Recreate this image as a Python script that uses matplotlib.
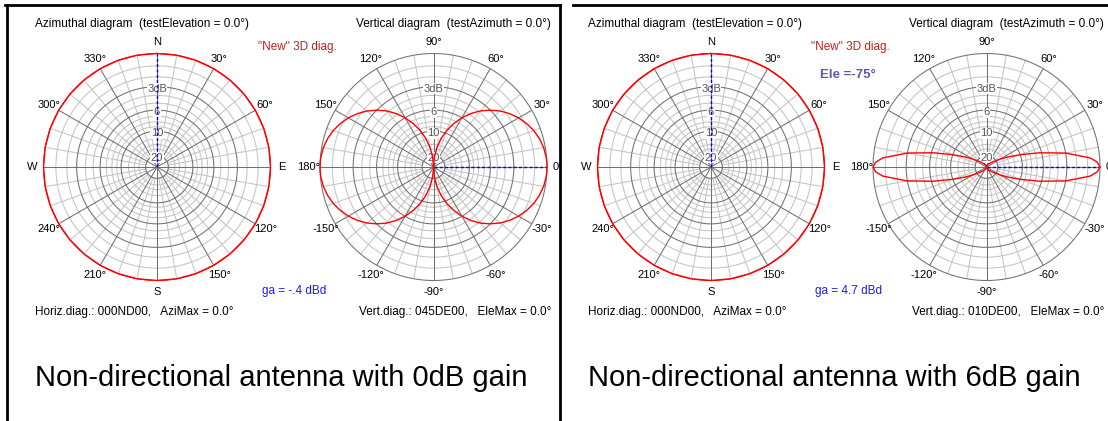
import matplotlib.pyplot as plt
import numpy as np

plt.rcParams['font.family'] = ['Liberation Sans', 'DejaVu Sans']

W, H = 1108, 421

# grid rings in dB below maximum (radius is linear voltage, 0 dB = outer ring)
major_rings_db = [0, 3, 6, 10, 20]
minor_rings_db = [1, 2, 4, 5, 7, 8, 9, 12, 14, 16]
ring_label_db = [3, 6, 10, 20]
ring_label_txt = ['3dB', '6', '10', '20']

# angle scales
azi_angles = [0, 30, 60, 90, 120, 150, 180, 210, 240, 270, 300, 330]
azi_labels = ['N', '30°', '60°', 'E', '120°', '150°', 'S', '210°', '240°', 'W', '300°', '330°']
ele_angles = [90, 60, 30, 0, -30, -60, -90, -120, -150, 180, 150, 120]
ele_labels = ['90°', '60°', '30°', '0°', '-30°', '-60°', '-90°', '-120°', '-150°', '180°', '150°', '120°']

# horizontal patterns (omni): azimuth deg -> dB
azi_theta = [0, 10, 20, 30, 40, 50, 60, 70, 80, 90, 100, 110, 120, 130, 140, 150, 160, 170,
             180, 190, 200, 210, 220, 230, 240, 250, 260, 270, 280, 290, 300, 310, 320,
             330, 340, 350, 360]
azi_gain_0db = [0] * len(azi_theta)
azi_gain_6db = [0] * len(azi_theta)

# vertical patterns, one quadrant: elevation deg -> dB (symmetric antenna)
ele_theta = [0, 2.5, 5, 10, 15, 20, 25, 30, 35, 40, 45, 50, 55, 60, 65, 70, 75, 80, 85, 90]
ele_gain_045 = [0, -0.01, -0.03, -0.13, -0.3, -0.54, -0.86, -1.25, -1.73, -2.3, -3.0,
                -3.8, -4.8, -6.0, -7.5, -9.3, -11.7, -15.2, -21.2, -40]
ele_gain_010 = [0, -0.2, -0.75, -3.0, -6.3, -10, -13.5, -17, -20.5, -23, -26,
                -28, -30, -32, -34, -36, -38, -40, -40, -40]

LIGHT = '#c4c4c4'
DARK = '#707070'
RED = '#ff0000'
BLUE = '#0000ff'
LW = 0.75


def to_r(db):
    return 10 ** (np.asarray(db, dtype=float) / 20.0)


def polar_at(fig, cx, cy, R=113.5):
    ax = fig.add_axes([(cx - R) / W, (H - cy - R) / H, 2 * R / W, 2 * R / H],
                      projection='polar')
    ax.set_ylim(0, 1)
    ax.set_xticks([])
    ax.set_yticks([])
    ax.grid(False)
    ax.spines['polar'].set_visible(False)
    ax.patch.set_alpha(0)
    return ax


def draw_grid(ax, label_theta, outer_color=DARK):
    th = np.linspace(0, 2 * np.pi, 721)
    for db in minor_rings_db:
        ax.plot(th, np.full_like(th, to_r(-db)), color=LIGHT, lw=LW, zorder=1)
    for db in major_rings_db:
        c = outer_color if db == 0 else DARK
        ax.plot(th, np.full_like(th, to_r(-db)), color=c, lw=LW, zorder=2,
                clip_on=False)
    r_in = to_r(-20)
    for a in range(0, 360, 10):
        t = np.deg2rad(a)
        if a % 30:
            ax.plot([t, t], [r_in, 1], color=LIGHT, lw=LW, zorder=1)
        else:
            ax.plot([t, t], [0, 1], color=DARK, lw=LW, zorder=2)
    # ring values sit just under their ring
    for db, txt in zip(ring_label_db, ring_label_txt):
        ax.text(np.deg2rad(label_theta), to_r(-db) - 0.018, txt, ha='center', va='center',
                fontsize=8, color='#555555', zorder=3,
                bbox=dict(fc='white', ec='none', pad=0.4))


def angle_labels(ax, angles, labels, r=1.1):
    for a, lab in zip(angles, labels):
        ax.text(np.deg2rad(a), r, lab, ha='center', va='center', fontsize=8)


def azimuthal(fig, cx, cy, gain):
    ax = polar_at(fig, cx, cy)
    ax.set_theta_zero_location('N')
    ax.set_theta_direction(-1)
    draw_grid(ax, 0, outer_color=RED)
    angle_labels(ax, azi_angles, azi_labels)
    ax.plot(np.deg2rad(azi_theta), to_r(gain), color=RED, lw=1.0, zorder=5, clip_on=False)
    ax.plot([0, 0], [0, 1], color=BLUE, lw=1.0, ls=(0, (2.2, 1.6)), zorder=6)
    return ax


def vertical(fig, cx, cy, gain_q):
    ax = polar_at(fig, cx, cy)
    ax.set_theta_zero_location('E')
    draw_grid(ax, 90)
    angle_labels(ax, ele_angles, ele_labels)
    q = np.array(ele_theta, dtype=float)
    g = np.array(gain_q, dtype=float)
    # front lobe -90..90, back lobe mirrored about the vertical axis
    front_t = np.concatenate([-q[::-1], q[1:]])
    front_g = np.concatenate([g[::-1], g[1:]])
    back_t = 180 - front_t
    ax.plot([0, 0], [0, 1], color=BLUE, lw=1.0, ls=(0, (2.2, 1.6)), zorder=4)
    ax.plot(np.deg2rad(front_t), to_r(front_g), color=RED, lw=1.0, zorder=5, clip_on=False)
    ax.plot(np.deg2rad(back_t), to_r(front_g), color=RED, lw=1.0, zorder=5, clip_on=False)
    return ax


fig = plt.figure(figsize=(W / 100, H / 100), dpi=100)
bg = fig.add_axes([0, 0, 1, 1])
bg.set_xlim(0, W)
bg.set_ylim(H, 0)
bg.axis('off')

# panel frames
bg.plot([5, 560], [5, 5], color='black', lw=2)
bg.plot([7, 7], [5, H], color='black', lw=2)
bg.plot([560, 560], [5, H], color='black', lw=2)
bg.plot([573, W], [5, 5], color='black', lw=2)

azimuthal(fig, 157, 167, azi_gain_0db)
vertical(fig, 433.5, 167, ele_gain_045)
azimuthal(fig, 711, 167, azi_gain_6db)
vertical(fig, 986.5, 167, ele_gain_010)

fs = 8.5
panels = [
    (0, '045DE00', 'ga = -.4 dBd', 'Non-directional antenna with 0dB gain'),
    (553, '010DE00', 'ga = 4.7 dBd', 'Non-directional antenna with 6dB gain'),
]
for dx, vcode, ga, caption in panels:
    bg.text(35 + dx, 24, 'Azimuthal diagram  (testElevation = 0.0°)', fontsize=fs,
            ha='left', va='center')
    bg.text(551 + dx, 24, 'Vertical diagram  (testAzimuth = 0.0°)', fontsize=fs,
            ha='right', va='center')
    bg.text(258 + dx, 47, '"New" 3D diag.', fontsize=fs, color='#c41e1e',
            ha='left', va='center')
    bg.text(262 + dx, 291, ga, fontsize=fs, color='#1a1aff', ha='left', va='center')
    bg.text(35 + dx, 312, 'Horiz.diag.: 000ND00,   AziMax = 0.0°', fontsize=fs,
            ha='left', va='center')
    bg.text(551 + dx, 312, 'Vert.diag.: %s,   EleMax = 0.0°' % vcode, fontsize=fs,
            ha='right', va='center')
    bg.text(35 + dx, 378, caption, fontsize=21, ha='left', va='center')

bg.text(820, 75, 'Ele =-75°', fontsize=9.5, fontweight='bold', color='#5a5aa8',
        ha='left', va='center')

fig.savefig('out.png', dpi=100)
